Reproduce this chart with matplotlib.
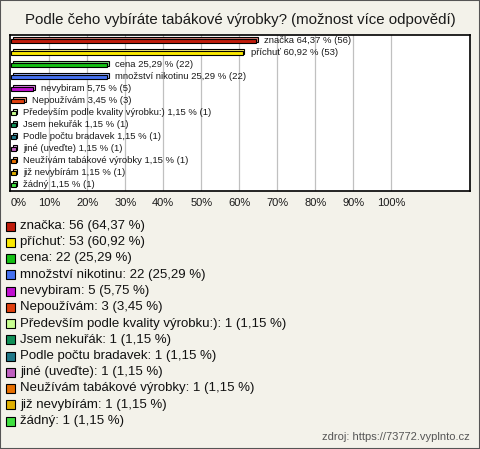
import matplotlib
matplotlib.use("Agg")
import matplotlib.pyplot as plt
import matplotlib.colors as mcolors
from matplotlib.patches import Rectangle
import numpy as np

plt.rcParams['font.family'] = ['Liberation Sans', 'DejaVu Sans']

title = "Podle čeho vybíráte tabákové výrobky? (možnost více odpovědí)"
labels = ["značka", "příchuť", "cena", "množství nikotinu", "nevybiram", "Nepoužívám",
          "Především podle kvality výrobku:)", "Jsem nekuřák", "Podle počtu bradavek",
          "jiné (uveďte)", "Neužívám tabákové výrobky", "již nevybírám", "žádný"]
counts = [56, 53, 22, 22, 5, 3, 1, 1, 1, 1, 1, 1, 1]
percents = [64.37, 60.92, 25.29, 25.29, 5.75, 3.45, 1.15, 1.15, 1.15, 1.15, 1.15, 1.15, 1.15]
colors = ["#c01c0c", "#fae800", "#14c014", "#4470f0", "#c010d0", "#e0400e",
          "#c8ff90", "#109058", "#207888", "#c060c0", "#e87000", "#e0b000", "#40e040"]
xticks = [0, 10, 20, 30, 40, 50, 60, 70, 80, 90, 100]
source = "zdroj: https://73772.vyplnto.cz"

def fmt(v):
    return f"{v:.2f}".replace(".", ",")

W, H = 480, 449
fig = plt.figure(figsize=(W / 100, H / 100), dpi=100)
bg = "#f3f2ea"
fig.patch.set_facecolor(bg)
fig.patches.append(Rectangle((0, 0), 1, 1, transform=fig.transFigure, fill=False,
                             edgecolor="#555555", linewidth=1.5))

fig.text(0.5, 1 - 20 / H, title, ha="center", va="center", fontsize=10.8, color="#1a1a1a")

ax = fig.add_axes([10 / W, 1 - 191 / H, 460 / W, 156 / H])
ax.set_facecolor("white")
n = len(labels)
y = np.arange(n)
xmax = (470 - 11.3) / 3.8
ax.set_xlim(-0.3, xmax)
ax.set_ylim(n - 0.5, -0.5)
for t in xticks[1:]:
    ax.axvline(t, color="#c0c0c0", linewidth=0.9, zorder=0)
ax.set_xticks([])
ax.set_yticks([])
for s in ax.spines.values():
    s.set_linewidth(1.2)
    s.set_color("black")

h = 0.38
dx = 0.45
dy = 0.14
for i in range(n):
    c = colors[i]
    light = tuple(min(1, v * 0.55 + 0.45) for v in mcolors.to_rgb(c))
    ax.barh(y[i] - dy, percents[i], left=dx, height=h, color=light, edgecolor="black",
            linewidth=0.8, zorder=2)
    ax.barh(y[i], percents[i], height=h, color=c, edgecolor="black", linewidth=0.8, zorder=3)
    ax.text(percents[i] + dx + 1.6, y[i] - 0.05, f"{labels[i]} {fmt(percents[i])} % ({counts[i]})",
            ha="left", va="center", fontsize=6.8, color="#1a1a1a", zorder=4)

# tick labels
for t in xticks:
    xf = 11.3 + 3.8 * t
    fig.text((xf if t > 0 else 11) / W, 1 - 203 / H, f"{t}%", ha="center" if t > 0 else "left",
             va="center", fontsize=8, color="#1a1a1a")

# legend
y0 = 226
pitch = 16.25
for i in range(n):
    yy = 1 - (y0 + i * pitch) / H
    fig.patches.append(Rectangle((6 / W, yy - 4.5 / H), 9 / W, 9 / H, transform=fig.transFigure,
                                 facecolor=colors[i], edgecolor="black", linewidth=0.8))
    fig.text(20 / W, yy, f"{labels[i]}: {counts[i]} ({fmt(percents[i])} %)", ha="left",
             va="center", fontsize=9.5, color="#111111")

fig.text(470 / W, 1 - 437 / H, source, ha="right", va="center", fontsize=8, color="#555555")

fig.savefig("out.png", dpi=100, facecolor=fig.get_facecolor())
